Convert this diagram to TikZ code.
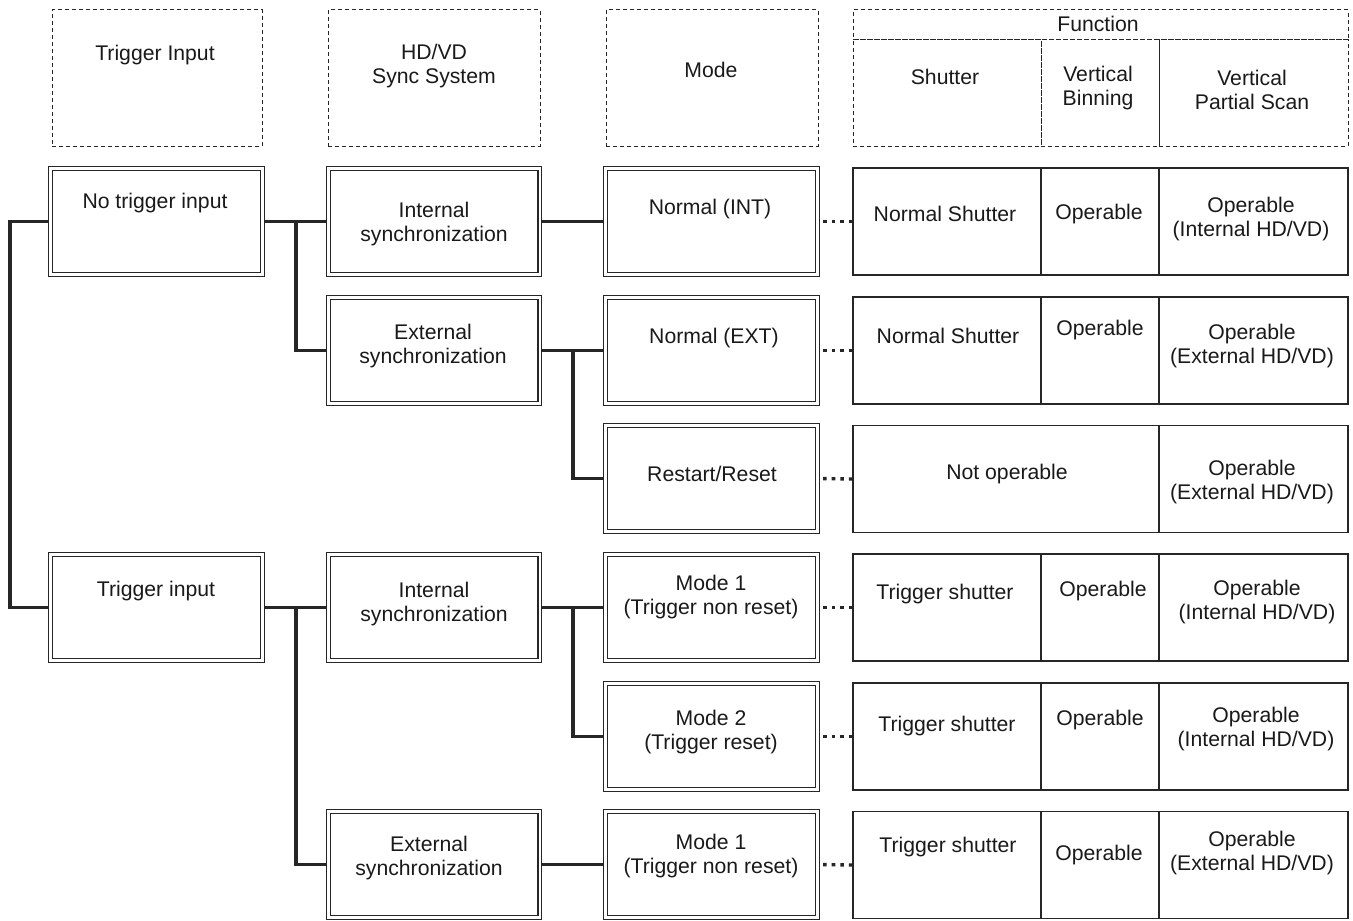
\documentclass[tikz,border=0pt]{standalone}
\usepackage{fontspec}
\setmainfont{Liberation Sans}
\colorlet{LineColor}{black!85}
\colorlet{TextColor}{black!90}

\begin{document}
\begin{tikzpicture}[x=0.5pt, y=-0.5pt,
    dbox/.style={draw=LineColor, double, double distance=1.3pt, line width=0.55pt,
        minimum width=105.8pt, minimum height=53pt, inner sep=0pt, outer sep=1.2pt},
    hbox/.style={draw=LineColor, dash pattern=on 2pt off 1.5pt, line width=0.5pt,
        inner sep=0pt},
    fcell/.style={draw=LineColor, line width=0.6pt, minimum height=53.5pt, inner sep=0pt},
    txt/.style={align=center, inner sep=0pt, text=TextColor,
        font=\fontsize{10.6}{12}\selectfont},
    wire/.style={draw=LineColor, line width=1.75pt},
    dotlink/.style={draw=LineColor, line width=1.7pt,
        dash pattern=on 1.8pt off 2.5pt, dash phase=2.6pt}]

\useasboundingbox (0,0) rectangle (1353,920);

% header
\node[hbox, minimum width=105pt, minimum height=68pt] (hTrig) at (157,78) {};
\node[hbox, minimum width=106pt, minimum height=68pt] (hSync) at (434,78) {};
\node[hbox, minimum width=106pt, minimum height=68pt] (hMode) at (712,78) {};
\node[hbox, minimum width=247.5pt, minimum height=15pt] (hFunc) at (1100.5,25) {};
\node[hbox, minimum width=94pt, minimum height=53pt] (hShut) at (947,93) {};
\node[hbox, minimum width=59pt, minimum height=53pt] (hBin) at (1100,93) {};
\node[hbox, minimum width=94.5pt, minimum height=53pt] (hPart) at (1253.5,93) {};
\node[txt] (tTrig) at (155,55) {Trigger Input};
\node[txt] (tSync) at (434,66) {HD/VD\\Sync System};
\node[txt] (tMode) at (711,70) {Mode};
\node[txt] (tFunc) at (1098,24) {Function};
\node[txt] (tShut) at (945,77) {Shutter};
\node[txt] (tBin) at (1098,88) {Vertical\\Binning};
\node[txt] (tPart) at (1252,90) {Vertical\\Partial Scan};

% trigger input column
\node[dbox] (noTrig) at (156.5,221.5) {};
\node[dbox] (trig) at (156.5,607.5) {};
\node[txt] at (155,203) {No trigger input};
\node[txt] at (156,591) {Trigger input};

% sync column
\node[dbox] (intSyncA) at (434,221.5) {};
\node[dbox] (extSyncA) at (434,350.5) {};
\node[dbox] (intSyncB) at (434,607.5) {};
\node[dbox] (extSyncB) at (434,864.5) {};
\node[txt] at (434,224) {Internal\\synchronization};
\node[txt] at (433,346) {External\\synchronization};
\node[txt] at (434,604) {Internal\\synchronization};
\node[txt] at (429,858) {External\\synchronization};

% mode column
\node[dbox] (normInt) at (711.5,221.5) {};
\node[dbox] (normExt) at (711.5,350.5) {};
\node[dbox] (restart) at (711.5,478.5) {};
\node[dbox] (modeOneA) at (711.5,607.5) {};
\node[dbox] (modeTwo) at (711.5,736.5) {};
\node[dbox] (modeOneB) at (711.5,864.5) {};
\node[txt] at (710,209) {Normal (INT)};
\node[txt] at (714,338) {Normal (EXT)};
\node[txt] at (712,474) {Restart/Reset};
\node[txt] at (711,597) {Mode 1\\(Trigger non reset)};
\node[txt] at (711,732) {Mode 2\\(Trigger reset)};
\node[txt] at (711,856) {Mode 1\\(Trigger non reset)};

% function rows
\node[fcell, minimum width=94pt] (fa1) at (947,221.5) {};
\node[fcell, minimum width=59pt] (fb1) at (1100,221.5) {};
\node[fcell, minimum width=94.5pt] (fc1) at (1253.5,221.5) {};
\node[txt] at (945,214) {Normal Shutter};
\node[txt] at (1099,214) {Operable};
\node[txt] at (1251,219) {Operable\\(Internal HD/VD)};

\node[fcell, minimum width=94pt] (fa2) at (947,350.5) {};
\node[fcell, minimum width=59pt] (fb2) at (1100,350.5) {};
\node[fcell, minimum width=94.5pt] (fc2) at (1253.5,350.5) {};
\node[txt] at (948,336) {Normal Shutter};
\node[txt] at (1100,330) {Operable};
\node[txt] at (1252,346) {Operable\\(External HD/VD)};

\node[fcell, minimum width=153pt] (fa3) at (1006,479) {};
\node[fcell, minimum width=94.5pt] (fc3) at (1253.5,479) {};
\node[txt] at (1007,474) {Not operable};
\node[txt] at (1252,482) {Operable\\(External HD/VD)};

\node[fcell, minimum width=94pt] (fa4) at (947,607.5) {};
\node[fcell, minimum width=59pt] (fb4) at (1100,607.5) {};
\node[fcell, minimum width=94.5pt] (fc4) at (1253.5,607.5) {};
\node[txt] at (945,594) {Trigger shutter};
\node[txt] at (1103,591) {Operable};
\node[txt] at (1257,602) {Operable\\(Internal HD/VD)};

\node[fcell, minimum width=94pt] (fa5) at (947,736.5) {};
\node[fcell, minimum width=59pt] (fb5) at (1100,736.5) {};
\node[fcell, minimum width=94.5pt] (fc5) at (1253.5,736.5) {};
\node[txt] at (947,726) {Trigger shutter};
\node[txt] at (1100,720) {Operable};
\node[txt] at (1256,729) {Operable\\(Internal HD/VD)};

\node[fcell, minimum width=94pt] (fa6) at (947,865) {};
\node[fcell, minimum width=59pt] (fb6) at (1100,865) {};
\node[fcell, minimum width=94.5pt] (fc6) at (1253.5,865) {};
\node[txt] at (948,847) {Trigger shutter};
\node[txt] at (1099,855) {Operable};
\node[txt] at (1252,853) {Operable\\(External HD/VD)};

% connectors
\coordinate (trunk) at (10,221.5);
\coordinate (forkA) at (296,221.5);
\coordinate (forkB) at (296,607.5);
\coordinate (forkC) at (573,350.5);
\coordinate (forkD) at (573,607.5);

\draw[wire] (noTrig.west) -- (trunk) |- (trig.west);
\draw[wire] (noTrig.east) -- (intSyncA.west);
\draw[wire] (forkA) |- (extSyncA.west);
\draw[wire] (trig.east) -- (intSyncB.west);
\draw[wire] (forkB) |- (extSyncB.west);
\draw[wire] (intSyncA.east) -- (normInt.west);
\draw[wire] (extSyncA.east) -- (normExt.west);
\draw[wire] (forkC) |- (restart.west);
\draw[wire] (intSyncB.east) -- (modeOneA.west);
\draw[wire] (forkD) |- (modeTwo.west);
\draw[wire] (extSyncB.east) -- (modeOneB.west);

\draw[dotlink] (normInt.east) -- (fa1.west);
\draw[dotlink] (normExt.east) -- (fa2.west);
\draw[dotlink] (restart.east) -- (fa3.west);
\draw[dotlink] (modeOneA.east) -- (fa4.west);
\draw[dotlink] (modeTwo.east) -- (fa5.west);
\draw[dotlink] (modeOneB.east) -- (fa6.west);

\end{tikzpicture}
\end{document}
